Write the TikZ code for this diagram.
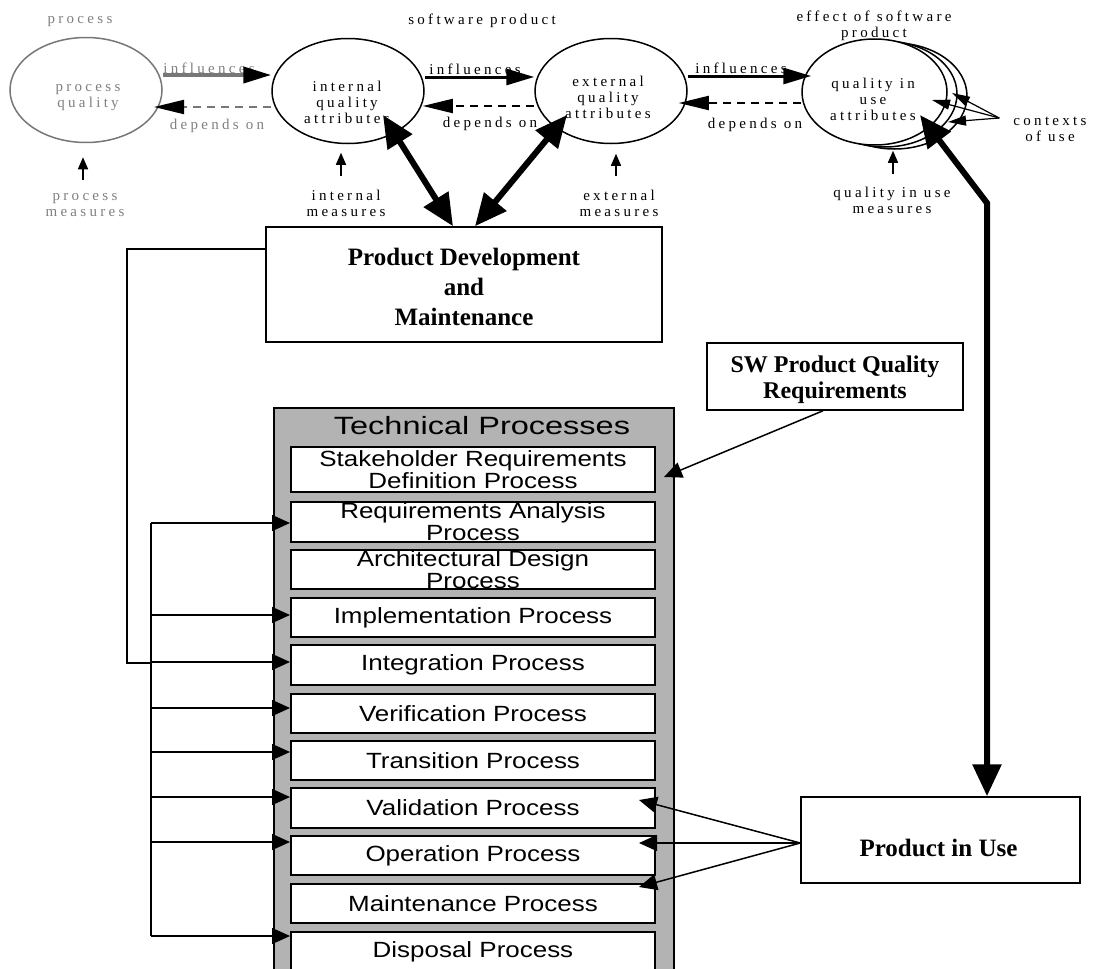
\documentclass[tikz,border=0pt]{standalone}
\usepackage{fontspec}
\setmainfont{Liberation Serif}
\newfontfamily\spc[LetterSpace=22]{Liberation Serif}
\newfontfamily\procfont[FakeStretch=1.18]{Liberation Sans}
\newfontfamily\titlefont[FakeStretch=1.3]{Liberation Sans}
\usetikzlibrary{arrows.meta,shapes.geometric,calc}
\definecolor{framegray}{HTML}{B3B3B3}
\definecolor{txtgray}{HTML}{808080}
\definecolor{ellgray}{HTML}{777777}
\begin{document}
\begin{tikzpicture}[x=1pt,y=-1pt,
  small/.style={font=\spc\fontsize{15}{16}\selectfont, align=center, inner sep=0pt},
  ell/.style={draw, ellipse, line width=1.5pt, minimum width=152pt, minimum height=105pt, inner sep=0pt},
  qell/.style={ell, fill=white, minimum width=145pt, minimum height=106pt},
  bigbox/.style={draw, line width=1.5pt, fill=white, inner sep=0pt},
  bigtxt/.style={font=\bfseries\fontsize{25}{30}\selectfont, align=center, inner sep=0pt},
  pbox/.style={draw, line width=2pt, fill=white, minimum width=364pt, inner sep=0pt},
  ptxt/.style={font=\procfont\fontsize{22}{22}\selectfont, align=center, inner sep=0pt},
  bigarrow/.style={line width=6pt, {Triangle[length=32pt,width=28pt]}-{Triangle[length=32pt,width=28pt]}},
  grayinfl/.style={line width=4pt, draw=ellgray, -{Triangle[length=28pt,width=16pt,color=black,fill=black]}},
  graydep/.style={line width=2pt, draw=ellgray, dash pattern=on 8pt off 6pt, -{Triangle[length=30pt,width=14pt,color=black,fill=black]}},
  infl/.style={line width=3pt, -{Triangle[length=28pt,width=16pt]}},
  dep/.style={line width=2pt, dash pattern=on 8pt off 6pt, -{Triangle[length=30pt,width=14pt]}},
  uparr/.style={line width=1.5pt, -{Triangle[length=12pt,width=10pt]}},
  carr/.style={line width=1.2pt, -{Triangle[length=18pt,width=10pt]}},
  wire/.style={line width=1.5pt},
  warrow/.style={line width=1.5pt, -{Triangle[length=18pt,width=16pt]}}
]
\clip (0,0) rectangle (1093,969);
\fill[white] (0,0) rectangle (1093,969);

% ---- ellipses
\node[ell, draw=ellgray] (pq) at (86,90) {};
\node[ell] (ia) at (348,91) {};
\node[ell] (ea) at (611,91) {};
\node[qell] (qb2) at (894.5,96) {};
\node[qell] (qb1) at (884.5,94) {};
\node[qell] (qiu) at (874.5,92) {};

\node[small, text=txtgray] (pqt) at (88,98) {process\\quality};
\node[small] (iat) at (347,102) {internal\\quality\\attributes};
\node[small] (eat) at (608,97) {external\\quality\\attributes};
\node[small] (qiut) at (873,99) {quality in\\use\\attributes};

% ---- top labels
\node[small, text=txtgray] (lproc) at (80,22) {process};
\node[small] (lsw) at (482,21) {software product};
\node[small] (leff) at (874,25.5) {effect of software\\product};
\node[small] (lctx) at (1050,129.5) {contexts\\of use};

\node[small, text=txtgray] (pm) at (85,205.5) {process\\measures};
\node[small] (im) at (346,203) {internal\\measures};
\node[small] (em) at (619,203) {external\\measures};
\node[small] (qm) at (892,200.5) {quality in use\\measures};

\node[small, text=txtgray] (l1) at (209,68) {influences};
\node[small, text=txtgray] (l2) at (217,126) {depends on};
\node[small] (l3) at (475,69) {influences};
\node[small] (l4) at (490,124) {depends on};
\node[small] (l5) at (741,68) {influences};
\node[small] (l6) at (755,125) {depends on};

% ---- top connectors
\draw[grayinfl] (pq.east |- 0,75) -- (ia.west |- 0,75);
\draw[graydep] (ia.west |- 0,107) -- ($(pq)+(68,17)$);
\draw[infl] (ia.east |- 0,77) -- (ea.west |- 0,77);
\draw[dep] (ea.west |- 0,106) -- ($(ia.east |- 0,106)+(-2,0)$);
\draw[infl] (ea.east |- 0,76) -- ($(qiu.west |- 0,76)+(10,0)$);
\draw[dep] (qiu.west |- 0,103) -- ($(ea.east |- 0,103)+(-9,0)$);

\draw[uparr] ($(pq.south)+(-3,37)$) -- ($(pq.south)+(-3,14)$);
\draw[uparr] ($(ia.south)+(-7,31.5)$) -- ($(ia.south)+(-7,8.5)$);
\draw[uparr] ($(ea.south)+(5,31.5)$) -- ($(ea.south)+(5,9.5)$);
\draw[uparr] ($(qiu.south)+(18.5,28)$) -- ($(qiu.south)+(18.5,5)$);

\coordinate (ctx) at ($(lctx.west)+(-14,-11.5)$);
\draw[carr] (ctx) -- ($(qiu)+(57.5,8)$);
\draw[carr] (ctx) -- ($(qb1)+(67.5,-1)$);
\draw[carr] (ctx) -- ($(qb2)+(53.5,26)$);

% ---- boxes
\node[bigbox, minimum width=396pt, minimum height=115pt] (pd) at (464,284.5) {};
\node[bigtxt] (pdt) at ($(pd)+(0,2)$) {Product Development\\and\\Maintenance};
\node[bigbox, minimum width=256pt, minimum height=67pt] (sw) at (835,376.5) {};
\node[font=\bfseries\fontsize{24}{26}\selectfont, align=center, inner sep=0pt] (swt) at (835,380) {SW Product Quality\\Requirements};
\node[bigbox, minimum width=279pt, minimum height=86pt] (piu) at (940.5,840) {};
\node[bigtxt] (piut) at (938.5,848) {Product in Use};

% ---- technical processes frame
\node[draw, line width=2pt, fill=framegray, minimum width=400pt, minimum height=600pt, anchor=north west, inner sep=0pt] (tp) at (273,407) {};
\node[font=\titlefont\fontsize{25}{25}\selectfont, inner sep=0pt] (tpt) at (482,426) {Technical Processes};

\foreach \n/\y/\h/\t in {
  stake/469.5/45/{Stakeholder Requirements\\Definition Process},
  ra/522/40/{Requirements Analysis\\Process},
  ad/569.5/39/{Architectural Design\\Process},
  impl/617.5/39/{Implementation Process},
  integ/665/40/{Integration Process},
  verif/713.5/39/{Verification Process},
  trans/760.5/39/{Transition Process},
  valid/808/40/{Validation Process},
  oper/855.5/39/{Operation Process},
  maint/903.5/39/{Maintenance Process},
  disp/952/40/{Disposal Process}}{
  \node[pbox, minimum height=\h pt] (\n) at (473,\y) {};
  \node[ptxt] (\n-t) at (\n) {\t};
}

% ---- left wiring
\draw[wire] ([yshift=35.5pt]pd.west) -| (127,663) -- (151,663);
\draw[wire] (151,523) -- (151,936);
\foreach \n/\y in {ra/523, impl/615, integ/662, verif/708, trans/752, valid/797, oper/842, disp/936}
  \draw[warrow] (151,\y) -- (\n.west |- 0,\y);

% ---- right arrows
\draw[warrow] ([xshift=-12pt]sw.south) -- ([xshift=8pt,yshift=-7.5pt]stake.east);
\draw[warrow] ([yshift=-3pt]piu.west) -- ([xshift=-17pt,yshift=8pt]valid.east);
\draw[warrow] ([yshift=-3pt]piu.west) -- ([xshift=-17pt,yshift=12.5pt]oper.east);
\draw[warrow] ([yshift=-3pt]piu.west) -- ([xshift=-17pt,yshift=16.5pt]maint.east);

% ---- thick double arrows
\draw[bigarrow] ($(ia)+(35,24)$) -- ([xshift=-11pt]pd.north);
\draw[bigarrow] ($(ea)+(-44,24)$) -- ([xshift=11pt]pd.north);
\coordinate (bend) at (987,203);
\draw[bigarrow] ($(qiu)+(45.5,23)$) -- (bend) -- ([xshift=46.5pt]piu.north);
\end{tikzpicture}
\end{document}
